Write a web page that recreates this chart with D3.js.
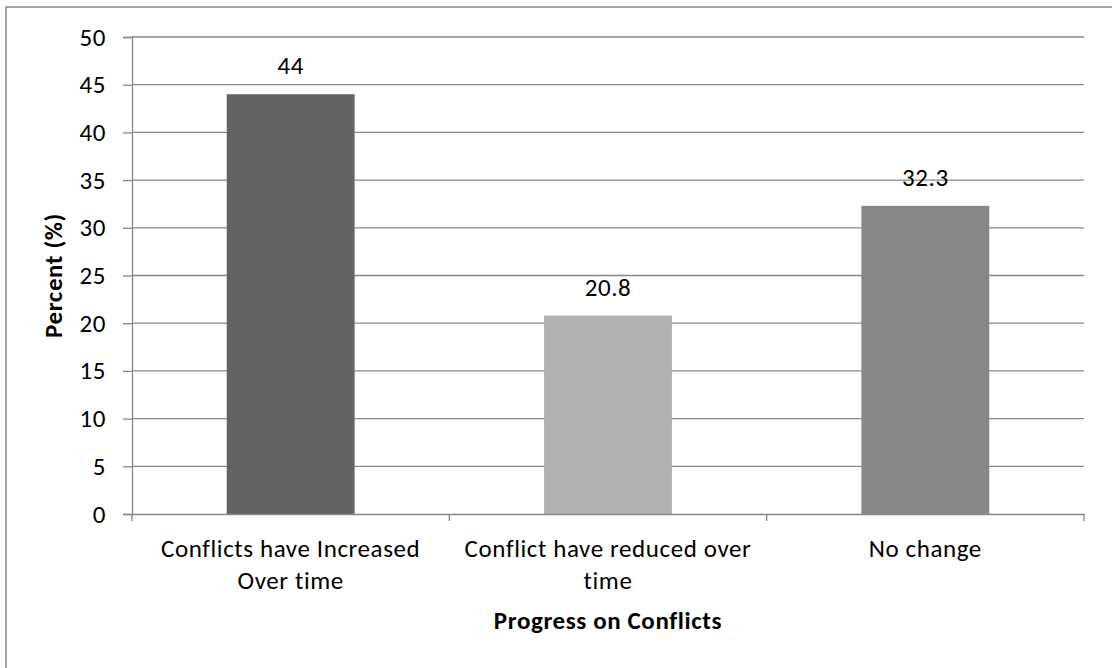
<!DOCTYPE html>
<html>
<head>
<meta charset="utf-8">
<script src="https://cdn.jsdelivr.net/npm/d3@7"></script>
<style>
  html, body { margin: 0; padding: 0; background: #fff; }
  svg { display: block; }
  text { font-family: Carlito, Calibri, Lato, "Open Sans", sans-serif; fill: #000; letter-spacing: 0.6px; }
</style>
</head>
<body>
<svg id="chart" width="1112" height="668"></svg>
<script>
const categories = ["Conflicts have Increased Over time", "Conflict have reduced over time", "No change"];
const categoryLines = [["Conflicts have Increased", "Over time"], ["Conflict have reduced over", "time"], ["No change"]];
const values = [44, 20.8, 32.3];
const valueLabels = ["44", "20.8", "32.3"];
const barColors = ["#636363", "#b2b2b2", "#878787"];
const yTicks = [0, 5, 10, 15, 20, 25, 30, 35, 40, 45, 50];
const yTitle = "Percent (%)";
const xTitle = "Progress on Conflicts";

const svg = d3.select("#chart");
const gridColor = "#878787";
const plot = { left: 132, right: 1084, top: 37, bottom: 514 };
const fs = 25;

// outer border
svg.append("rect").attr("x", 6).attr("y", 7).attr("width", 1200).attr("height", 800)
  .attr("fill", "none").attr("stroke", "#888").attr("stroke-width", 1.5);

const x = d3.scaleBand().domain(categories).range([plot.left, plot.right]).padding(0);
const y = d3.scaleLinear().domain([0, 50]).range([plot.bottom, plot.top]);

// gridlines
svg.append("g").selectAll("line").data(yTicks.filter(d => d > 0)).join("line")
  .attr("x1", plot.left).attr("x2", plot.right)
  .attr("y1", d => y(d)).attr("y2", d => y(d))
  .attr("stroke", gridColor).attr("stroke-width", 1.3);

// bars
const barFrac = 0.403;
svg.append("g").selectAll("rect").data(values).join("rect")
  .attr("x", (d, i) => x(categories[i]) + x.bandwidth() * (1 - barFrac) / 2)
  .attr("width", x.bandwidth() * barFrac)
  .attr("y", d => y(d))
  .attr("height", d => y(0) - y(d))
  .attr("fill", (d, i) => barColors[i]);

// y axis
const yAxis = svg.append("g").attr("transform", `translate(${plot.left},0)`)
  .call(d3.axisLeft(y).tickValues(yTicks).tickSize(9).tickPadding(17).tickFormat(d3.format("d")));
yAxis.select(".domain").attr("stroke", gridColor).attr("stroke-width", 1.3);
yAxis.selectAll(".tick line").attr("stroke", gridColor).attr("stroke-width", 1.3);
yAxis.selectAll(".tick text").attr("font-size", fs).attr("font-family", null).attr("fill", "#000");

// x axis
const xAxis = svg.append("g").attr("transform", `translate(0,${plot.bottom})`)
  .call(d3.axisBottom(x).tickSize(0).tickFormat(""));
xAxis.select(".domain").attr("stroke", gridColor).attr("stroke-width", 1.3);
xAxis.selectAll(".tick").remove();
const boundaries = categories.map(c => x(c)).concat([plot.right]);
svg.append("g").selectAll("line").data(boundaries).join("line")
  .attr("x1", d => d).attr("x2", d => d)
  .attr("y1", plot.bottom).attr("y2", plot.bottom + 7)
  .attr("stroke", gridColor).attr("stroke-width", 1.3);

// category labels
const cl = svg.append("g");
categories.forEach((c, i) => {
  const t = cl.append("text").attr("text-anchor", "middle").attr("font-size", fs)
    .attr("x", x(c) + x.bandwidth() / 2).attr("y", 557);
  categoryLines[i].forEach((ln, j) => {
    t.append("tspan").attr("x", x(c) + x.bandwidth() / 2).attr("dy", j === 0 ? 0 : 32).text(ln);
  });
});

// data labels
svg.append("g").selectAll("text").data(values).join("text")
  .attr("text-anchor", "middle").attr("font-size", fs)
  .attr("x", (d, i) => x(categories[i]) + x.bandwidth() / 2)
  .attr("y", d => y(d) - 20)
  .text((d, i) => valueLabels[i]);

// axis titles
svg.append("text").attr("text-anchor", "middle").attr("font-size", fs).attr("font-weight", "bold")
  .attr("x", (plot.left + plot.right) / 2).attr("y", 629).text(xTitle);
svg.append("text").attr("text-anchor", "middle").attr("font-size", fs).attr("font-weight", "bold")
  .attr("transform", `translate(62,${(plot.top + plot.bottom) / 2}) rotate(-90)`).text(yTitle);
</script>
</body>
</html>
